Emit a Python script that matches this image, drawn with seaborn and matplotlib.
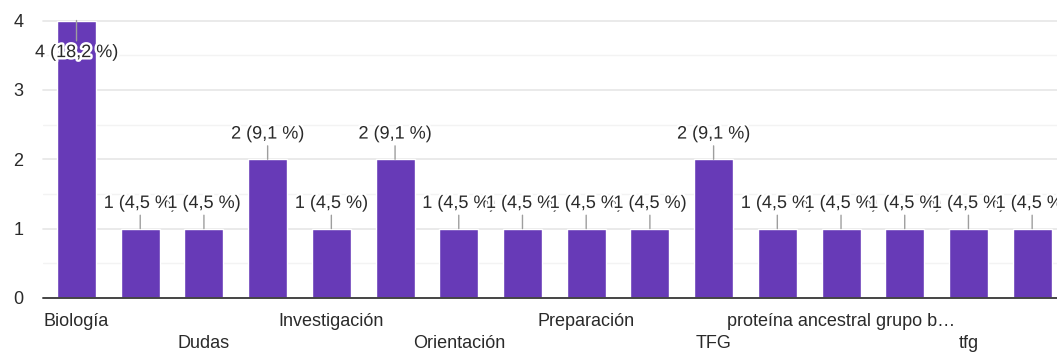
import matplotlib
matplotlib.use("Agg")
import matplotlib.pyplot as plt
import matplotlib.patheffects as pe
import seaborn as sns
import pandas as pd

# Responses per category (16 bars); only every other category name is shown
positions = list(range(16))
values = [4, 1, 1, 2, 1, 2, 1, 1, 1, 1, 2, 1, 1, 1, 1, 1]
tick_labels = ["Biología", "", "Dudas", "", "Investigación", "", "Orientación", "",
               "Preparación", "", "TFG", "", "proteína ancestral grupo b…", "", "tfg", ""]
y_ticks = [0, 1, 2, 3, 4]

total = sum(values)

sns.set_theme(style="white")
plt.rcParams["font.family"] = ["Liberation Sans", "DejaVu Sans"]

BAR = "#673ab7"
TEXT = "#2a2a2a"

fig = plt.figure(figsize=(10.57, 3.56), dpi=100)
ax = fig.add_axes([43 / 1057, (356 - 298) / 356, 1 - 43 / 1057, 277.5 / 356])

df = pd.DataFrame({"pos": positions, "count": values})
sns.barplot(data=df, x="pos", y="count", color=BAR, saturation=1, width=0.612,
            ax=ax, zorder=2)

ax.set_xlim(-0.526, 15.39)
ax.set_ylim(0, 4)

# light grid: major at integers, fainter at halves
for y in y_ticks[1:]:
    ax.axhline(y, color="#e6e6e6", lw=1.2, zorder=0, clip_on=False)
for y in [0.5, 1.5, 2.5, 3.5]:
    ax.axhline(y, color="#f3f3f3", lw=1.0, zorder=0)
ax.axhline(0, color="#444444", lw=1.4, zorder=3, clip_on=False)

for s in ax.spines.values():
    s.set_visible(False)

ax.set_yticks(y_ticks)
ax.set_yticklabels([str(t) for t in y_ticks], fontsize=13, color=TEXT)
ax.tick_params(axis="y", length=0, pad=14)

# alternate the shown category names between two rows
labels = []
shown = 0
for t in tick_labels:
    if t:
        labels.append(t if shown % 2 == 0 else "\n" + t)
        shown += 1
    else:
        labels.append("")
ax.set_xticks(positions)
ax.set_xticklabels(labels, fontsize=13, color=TEXT, linespacing=1.4)
ax.tick_params(axis="x", length=0, pad=11)
ax.set_xlabel("")
ax.set_ylabel("")

halo = [pe.withStroke(linewidth=3.5, foreground="white")]
ymax = ax.get_ylim()[1]
for x, v in zip(positions, values):
    pct = f"{100 * v / total:.1f}".replace(".", ",")
    label = f"{v} ({pct} %)"
    if v >= ymax - 0.3:
        ax.annotate(label, xy=(x, v), xytext=(0, -17), textcoords="offset points",
                    ha="center", va="top", fontsize=13, color=TEXT,
                    path_effects=halo, zorder=5,
                    arrowprops=dict(arrowstyle="-", color="#9e9e9e", lw=1,
                                    shrinkA=0, shrinkB=0))
    else:
        ax.annotate(label, xy=(x, v), xytext=(0, 12), textcoords="offset points",
                    ha="center", va="bottom", fontsize=13, color=TEXT,
                    path_effects=halo, zorder=5,
                    arrowprops=dict(arrowstyle="-", color="#9e9e9e", lw=1,
                                    shrinkA=0, shrinkB=0))

fig.savefig("out.png", dpi=100, facecolor="white")
